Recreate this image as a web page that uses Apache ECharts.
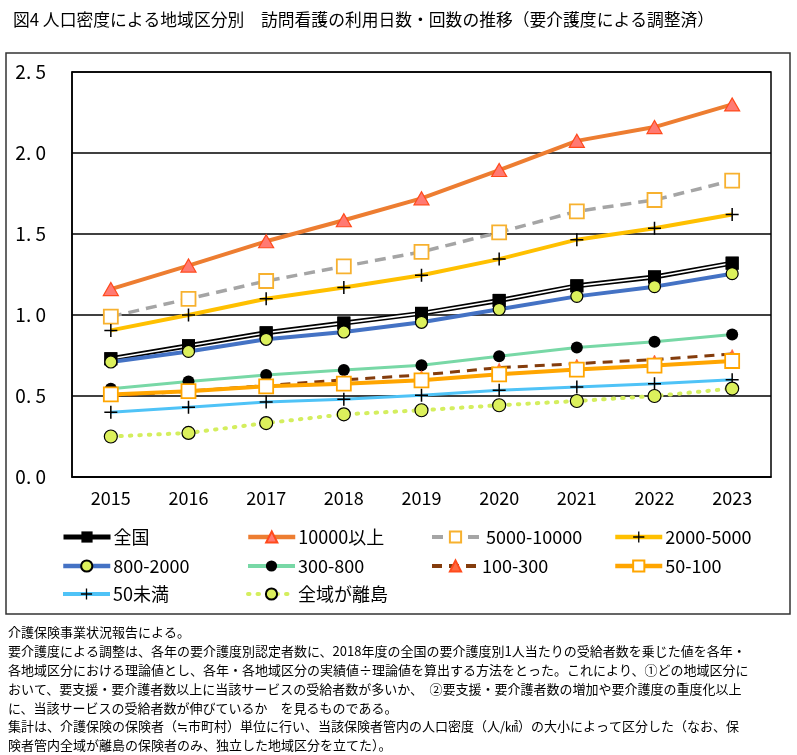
<!DOCTYPE html>
<html><head><meta charset="utf-8">
<script src="https://cdn.jsdelivr.net/npm/echarts@6/dist/echarts.min.js"></script>
<style>html,body{margin:0;padding:0;background:#fff}#c{width:797px;height:755px}</style>
</head><body><div id="c"></div>
<script>
const years = ['2015','2016','2017','2018','2019','2020','2021','2022','2023'];
const yTicks = [0, 0.5, 1.0, 1.5, 2.0, 2.5];
const zenkoku   = [0.73, 0.81, 0.89, 0.95, 1.01, 1.09, 1.18, 1.235, 1.32];
const d10000    = [1.16, 1.305, 1.455, 1.585, 1.72, 1.895, 2.075, 2.16, 2.30];
const d5000     = [0.99, 1.10, 1.21, 1.30, 1.39, 1.51, 1.64, 1.71, 1.83];
const d2000     = [0.905, 1.00, 1.10, 1.17, 1.245, 1.345, 1.465, 1.535, 1.62];
const d800      = [0.71, 0.775, 0.85, 0.895, 0.955, 1.035, 1.115, 1.175, 1.255];
const d300      = [0.545, 0.59, 0.63, 0.66, 0.69, 0.745, 0.80, 0.835, 0.88];
const d100      = [0.50, 0.53, 0.565, 0.60, 0.63, 0.675, 0.70, 0.725, 0.76];
const d50       = [0.51, 0.53, 0.56, 0.576, 0.597, 0.634, 0.663, 0.688, 0.716];
const dUnder50  = [0.40, 0.43, 0.463, 0.48, 0.504, 0.535, 0.556, 0.576, 0.60];
const dIsland   = [0.25, 0.272, 0.333, 0.387, 0.412, 0.443, 0.469, 0.50, 0.546];
const names = ['全国','10000以上','5000-10000','2000-5000','800-2000','300-800','100-300','50-100','50未満','全域が離島'];
const notes = [
 '介護保険事業状況報告による。',
 '要介護度による調整は、各年の要介護度別認定者数に、2018年度の全国の要介護度別1人当たりの受給者数を乗じた値を各年・',
 '各地域区分における理論値とし、各年・各地域区分の実績値÷理論値を算出する方法をとった。これにより、①どの地域区分に',
 'おいて、要支援・要介護者数以上に当該サービスの受給者数が多いか、　②要支援・要介護者数の増加や要介護度の重度化以上',
 'に、当該サービスの受給者数が伸びているか　を見るものである。',
 '集計は、介護保険の保険者（≒市町村）単位に行い、当該保険者管内の人口密度（人/㎢）の大小によって区分した（なお、保',
 '険者管内全域が離島の保険者のみ、独立した地域区分を立てた）。'
];
const title = '図4 人口密度による地域区分別　訪問看護の利用日数・回数の推移（要介護度による調整済）';

const plus = 'path://M5.3,0 L6.7,0 L6.7,5.3 L12,5.3 L12,6.7 L6.7,6.7 L6.7,12 L5.3,12 L5.3,6.7 L0,6.7 L0,5.3 L5.3,5.3 Z';
const NUMF = '"Liberation Sans Narrow","Noto Sans CJK JP",sans-serif';
const CJK = '"Noto Sans CJK JP",sans-serif';

function line(name, data, color, width, type, symbol, size, fill, border, bw, extra) {
  return Object.assign({
    name: name, type: 'line', data: data,
    symbol: symbol, symbolSize: size,
    lineStyle: {color: color, width: width, type: type},
    itemStyle: {color: fill, borderColor: border, borderWidth: bw},
    emphasis: {disabled: true}, animation: false
  }, extra || {});
}

const series = [
  line('全国', zenkoku, '#000', 5, 'solid', 'rect', 13, '#000', '#000', 0),
  line('全国_in', zenkoku, '#fff', 1.6, 'solid', 'none', 0, '#fff', '#fff', 0),
  line('全国_m', zenkoku, '#000', 0, 'solid', 'rect', 13, '#000', '#000', 0, {lineStyle:{width:0, opacity:0}}),
  line('10000以上', d10000, '#ED7D31', 4, 'solid', 'triangle', [15, 13], '#FF7A73', '#FF4A1C', 1.2),
  line('5000-10000', d5000, '#A5A5A5', 3.5, [11, 7], 'rect', 14, '#fff', '#F7B12F', 1.8),
  line('2000-5000', d2000, '#FFC000', 4, 'solid', plus, 13, '#000', '#000', 0),
  line('800-2000', d800, '#4472C4', 4, 'solid', 'circle', 12, '#DCF05C', '#000', 1.2),
  line('300-800', d300, '#78D8A6', 3, 'solid', 'circle', 12, '#000', '#000', 0),
  line('100-300', d100, '#843C0C', 3, [10, 7], 'triangle', [9, 9], '#FF6A40', '#FF4A1C', 0.5),
  line('50-100', d50, '#FFA500', 4, 'solid', 'rect', 14, '#fff', '#FFA500', 1.8),
  line('50未満', dUnder50, '#4FC3F7', 3, 'solid', plus, 13, '#000', '#000', 0),
  line('全域が離島', dIsland, '#D4EE5E', 4, [1.5, 8], 'circle', 13, '#DCF05C', '#000', 1.2, {}),
];
series[series.length-1].lineStyle.cap = 'round';

const legendLineW = [5, 4.5, 4, 4.5, 4.5, 4, 4, 4.5, 4, 4];
const colX = [56, 241, 425, 608];
const rowY = [523, 552, 580];
const legends = names.map((n, i) => ({
  data: [n],
  left: colX[i % 4], top: rowY[Math.floor(i / 4)],
  itemWidth: 47, itemHeight: 14, itemGap: 0,
  lineStyle: {width: legendLineW[i]},
  textStyle: {fontSize: 18, fontFamily: NUMF, color: '#000', padding: [0, 0, 0, -2]},
  selectedMode: false
}));
legends[2].formatter = ' {name}';

const chart = echarts.init(document.getElementById('c'), null, {renderer: 'canvas'});
chart.setOption({
  backgroundColor: '#fff',
  animation: false,
  title: {text: title, left: 8, top: 6, textStyle: {fontSize: 16.8, fontWeight: 'normal', fontFamily: CJK, color: '#000'}},
  legend: legends,
  grid: {left: 72, right: 26, top: 72, bottom: 278, show: true, borderColor: '#000', borderWidth: 1.5, containLabel: false},
  xAxis: {
    type: 'category', data: years, boundaryGap: true,
    axisLine: {lineStyle: {color: '#000', width: 1.5}}, axisTick: {show: false},
    axisLabel: {color: '#000', fontSize: 18, fontFamily: NUMF, margin: 12}
  },
  yAxis: {
    type: 'value', min: yTicks[0], max: yTicks[yTicks.length-1], interval: 0.5,
    axisLine: {show: true, lineStyle: {color: '#000', width: 1.5}}, axisTick: {show: false},
    splitLine: {lineStyle: {color: '#000', width: 1.5}},
    axisLabel: {color: '#000', fontSize: 19, fontFamily: NUMF, margin: 26, formatter: v => v.toFixed(1).replace('.', '. ')}
  },
  graphic: [
    {type: 'rect', shape: {x: 6, y: 53, width: 784, height: 561}, style: {fill: 'none', stroke: '#333', lineWidth: 1.5}, silent: true, z: -1},
    {type: 'text', left: 8, top: 623, style: {text: notes.join('\n'), font: '13px "Noto Sans CJK JP", sans-serif', lineHeight: 18.8, fill: '#000'}, silent: true}
  ],
  series: series
});
</script></body></html>
